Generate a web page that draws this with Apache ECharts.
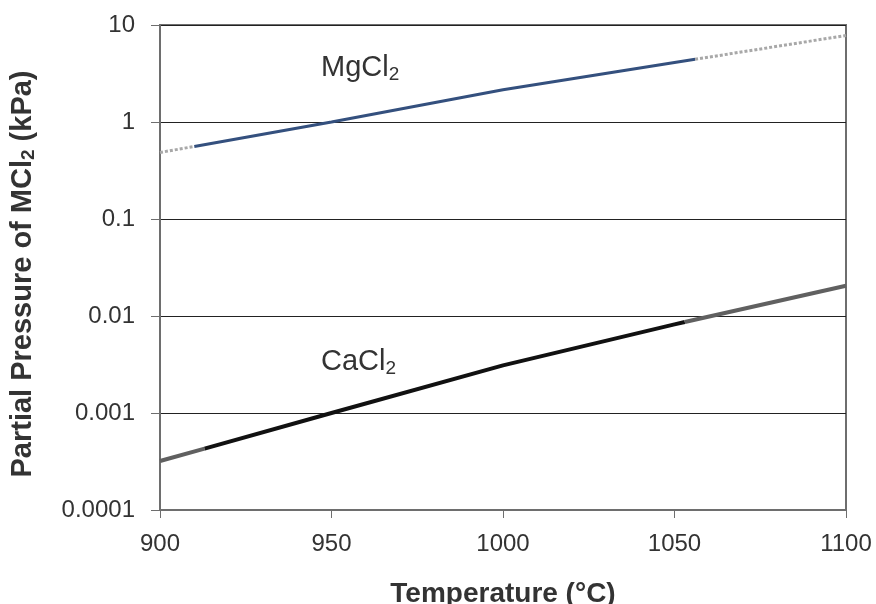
<!DOCTYPE html>
<html>
<head>
<meta charset="utf-8">
<script src="https://cdn.jsdelivr.net/npm/echarts@6/dist/echarts.min.js"></script>
<style>html,body{margin:0;padding:0;background:#fff;}#c{width:876px;height:604px;}</style>
</head>
<body>
<div id="c"></div>
<script>
// Data
const xTicks = [900, 950, 1000, 1050, 1100];
const yTickLabels = ['0.0001', '0.001', '0.01', '0.1', '1', '10'];

const mgTemps = [900, 910, 950, 1000, 1050, 1056, 1100];
const mgValues = [0.485, 0.56, 1.0, 2.15, 4.1, 4.43, 7.8];

const caTemps = [900, 913, 950, 1000, 1050, 1053, 1100];
const caValues = [0.00032, 0.00043, 0.001, 0.0031, 0.0082, 0.00867, 0.0205];

function pairs(t, v, from, to) {
  const out = [];
  for (let i = from; i <= to; i++) out.push([t[i], v[i]]);
  return out;
}

const chart = echarts.init(document.getElementById('c'));
const font = 'Liberation Sans, Arial, sans-serif';
const txt = '#333333';

chart.setOption({
  backgroundColor: '#ffffff',
  animation: false,
  grid: { left: 160, right: 30, top: 25, bottom: 94, show: true, borderColor: '#6e6e6e', borderWidth: 2,
    containLabel: false, outerBoundsMode: 'none' },
  xAxis: {
    type: 'value', min: 900, max: 1100, interval: 50,
    axisLine: { show: true, lineStyle: { color: '#6e6e6e', width: 2 } },
    axisTick: { show: true, length: 8, lineStyle: { color: '#6e6e6e', width: 1 } },
    axisLabel: { color: txt, fontFamily: font, fontSize: 24, margin: 22,
      formatter: function (v) { return String(xTicks[Math.round((v - 900) / 50)]); } },
    splitLine: { show: false },
    name: 'Temperature (°C)', nameLocation: 'middle', nameGap: 70,
    nameTextStyle: { color: txt, fontFamily: font, fontSize: 28, fontWeight: 'bold' }
  },
  yAxis: {
    type: 'log', logBase: 10, min: 0.0001, max: 10,
    axisLine: { show: true, lineStyle: { color: '#6e6e6e', width: 2 } },
    axisTick: { show: true, length: 9, lineStyle: { color: '#6e6e6e', width: 1 } },
    axisLabel: {
      color: txt, fontFamily: font, fontSize: 24, margin: 25,
      formatter: function (v) { return yTickLabels[Math.round(Math.log10(v)) + 4]; }
    },
    splitLine: { show: true, lineStyle: { color: '#222', width: 1 } }
  },
  series: [
    { type: 'line', data: pairs(mgTemps, mgValues, 0, 1), showSymbol: false, lineStyle: { color: '#a8a8a8', width: 3, type: [3, 2] } },
    { type: 'line', data: pairs(mgTemps, mgValues, 1, 5), showSymbol: false, lineStyle: { color: '#34507e', width: 3 } },
    { type: 'line', data: pairs(mgTemps, mgValues, 5, 6), showSymbol: false, lineStyle: { color: '#a8a8a8', width: 3, type: [3, 2] } },
    { type: 'line', data: pairs(caTemps, caValues, 0, 1), showSymbol: false, lineStyle: { color: '#606060', width: 4 } },
    { type: 'line', data: pairs(caTemps, caValues, 1, 5), showSymbol: false, lineStyle: { color: '#111111', width: 4 } },
    { type: 'line', data: pairs(caTemps, caValues, 5, 6), showSymbol: false, lineStyle: { color: '#606060', width: 4 } }
  ],
  graphic: [
    { type: 'text', x: 23, y: 274, rotation: Math.PI / 2, style: {
      text: '{a|Partial Pressure of MCl}{s|2}{a| (kPa)}', align: 'center', verticalAlign: 'middle',
      rich: {
        a: { fontSize: 29, fontWeight: 'bold', fontFamily: font, fill: txt },
        s: { fontSize: 19, fontWeight: 'bold', fontFamily: font, fill: txt, padding: [12, 0, 0, 0] } } } },
    { type: 'text', left: 321, top: 53, style: { text: '{a|MgCl}{s|2}', rich: {
      a: { fontSize: 29, fontFamily: font, fill: txt },
      s: { fontSize: 19, fontFamily: font, fill: txt, padding: [14, 0, 0, 0] } } } },
    { type: 'text', left: 321, top: 347, style: { text: '{a|CaCl}{s|2}', rich: {
      a: { fontSize: 29, fontFamily: font, fill: txt },
      s: { fontSize: 19, fontFamily: font, fill: txt, padding: [14, 0, 0, 0] } } } }
  ]
});
</script>
</body>
</html>
